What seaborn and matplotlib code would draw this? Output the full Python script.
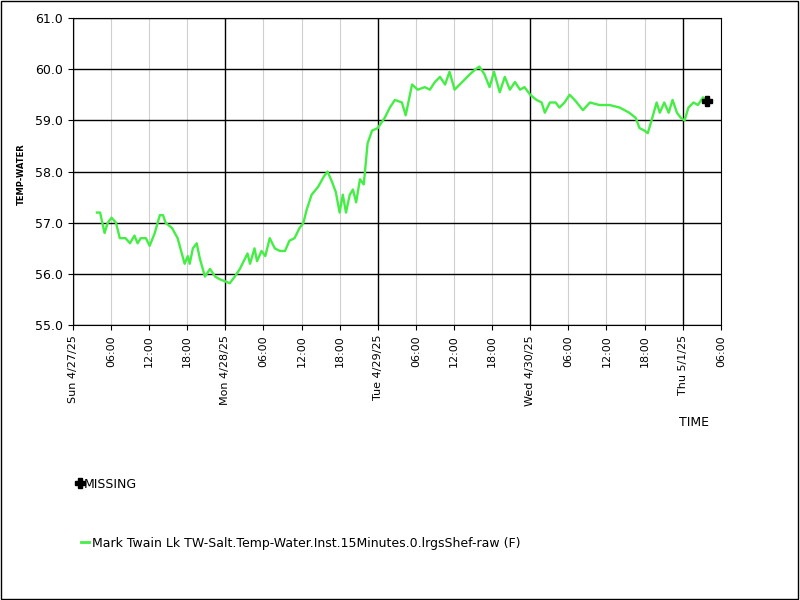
import matplotlib
matplotlib.use("Agg")
import matplotlib.pyplot as plt
import seaborn as sns
import pandas as pd
from matplotlib.lines import Line2D

# hours since Sun 4/27/25 00:00
hours = [3.8,4.3,5.0,5.5,6.1,6.8,7.4,8.3,9.0,9.7,10.2,10.7,11.5,12.1,12.9,13.7,14.2,14.6,15.6,16.5,17.6,18.1,18.4,18.9,19.5,20.0,20.8,21.6,22.4,23.1,24.1,24.7,25.5,26.3,27.1,27.5,27.9,28.6,29.0,29.7,30.3,31.0,31.8,32.6,33.4,34.1,34.9,35.7,36.3,36.8,37.6,38.6,39.5,40.1,40.8,41.4,42.0,42.5,43.0,43.6,44.1,44.6,45.2,45.8,46.4,47.1,48.0,49.1,49.9,50.7,51.8,52.4,53.4,54.3,55.4,56.2,57.0,57.8,58.6,59.3,60.1,60.9,61.7,62.5,63.4,64.0,64.8,65.6,66.3,67.2,68.0,68.8,69.6,70.4,71.1,72.0,73.0,73.8,74.3,75.1,76.0,76.6,77.4,78.2,79.0,80.3,81.4,82.9,84.5,86.1,87.6,88.6,89.2,90.0,90.5,91.1,91.9,92.4,93.1,93.8,94.4,95.1,95.7,96.3,96.9,97.7,98.4,99.2,99.6]
temps = [57.2,57.2,56.8,57.0,57.1,57.0,56.7,56.7,56.6,56.75,56.6,56.7,56.7,56.55,56.8,57.15,57.15,57.0,56.9,56.7,56.2,56.35,56.2,56.5,56.6,56.3,55.95,56.1,55.95,55.9,55.85,55.82,55.95,56.1,56.3,56.4,56.2,56.5,56.25,56.45,56.35,56.7,56.5,56.45,56.45,56.65,56.7,56.9,57.0,57.25,57.55,57.7,57.9,58.0,57.8,57.6,57.2,57.55,57.2,57.55,57.65,57.4,57.85,57.75,58.55,58.8,58.85,59.05,59.25,59.4,59.35,59.1,59.7,59.6,59.65,59.6,59.75,59.85,59.7,59.95,59.6,59.7,59.8,59.9,60.0,60.05,59.9,59.65,59.95,59.55,59.85,59.6,59.75,59.6,59.65,59.5,59.4,59.35,59.15,59.35,59.35,59.25,59.35,59.5,59.4,59.2,59.35,59.3,59.3,59.25,59.15,59.05,58.85,58.8,58.75,59.0,59.35,59.15,59.35,59.15,59.4,59.15,59.05,59.0,59.25,59.35,59.3,59.45,59.4]
missing_hours = [99.8]
missing_temps = [59.38]
day_labels = ["Sun 4/27/25", "Mon 4/28/25", "Tue 4/29/25", "Wed 4/30/25", "Thu 5/1/25"]
series_name = "Mark Twain Lk TW-Salt.Temp-Water.Inst.15Minutes.0.lrgsShef-raw (F)"

df = pd.DataFrame({"h": hours, "t": temps})
green = "#44ee44"

fig = plt.figure(figsize=(8, 6), dpi=100)
fig.patches.append(plt.Rectangle((0.001, 0.001), 0.997, 0.997, transform=fig.transFigure,
                                 fill=False, edgecolor="black", lw=1))
ax = fig.add_axes([0.091, 0.458, 0.81, 0.512])
ax.set_xlim(0, 102)
ax.set_ylim(55, 61)

ticks = list(range(0, 103, 6))
for t in ticks:
    if t % 24 == 0:
        ax.axvline(t, color="black", lw=1, zorder=1)
    else:
        ax.axvline(t, color="#d0d0d0", lw=0.8, zorder=1)
for y in range(55, 62):
    ax.axhline(y, color="black", lw=1, zorder=1)

sns.lineplot(data=df, x="h", y="t", ax=ax, color=green, lw=1.7, zorder=3)
ax.plot(missing_hours, missing_temps, marker="P", color="black", ms=7, ls="none", zorder=4)

labels = [day_labels[t // 24] if t % 24 == 0 else f"{t % 24:02d}:00" for t in ticks]
ax.set_xticks(ticks)
ax.set_xticklabels(labels, rotation=90, fontsize=8, fontfamily="DejaVu Sans")
ax.set_yticks(range(55, 62))
ax.set_yticklabels([f"{v:.1f}" for v in range(55, 62)], fontsize=9)
ax.set_xlabel("")
ax.set_ylabel("")
for s in ax.spines.values():
    s.set_color("black")

fig.text(0.027, 0.71, "TEMP-WATER", rotation=90, fontsize=6, fontweight="bold", va="center", ha="center")
fig.text(0.868, 0.295, "TIME", fontsize=9, va="center", ha="center")

fig.legend(handles=[Line2D([], [], marker="P", color="black", ls="none", ms=7)],
           labels=["MISSING"], loc="center left", bbox_to_anchor=(0.088, 0.193),
           frameon=False, fontsize=9, handlelength=0.5, handletextpad=0.1, borderpad=0)
fig.legend(handles=[Line2D([], [], color=green, lw=2)], labels=[series_name],
           loc="center left", bbox_to_anchor=(0.093, 0.095), frameon=False,
           fontsize=9, handlelength=0.7, handletextpad=0.2, borderpad=0)

fig.savefig("out.png", dpi=100)
